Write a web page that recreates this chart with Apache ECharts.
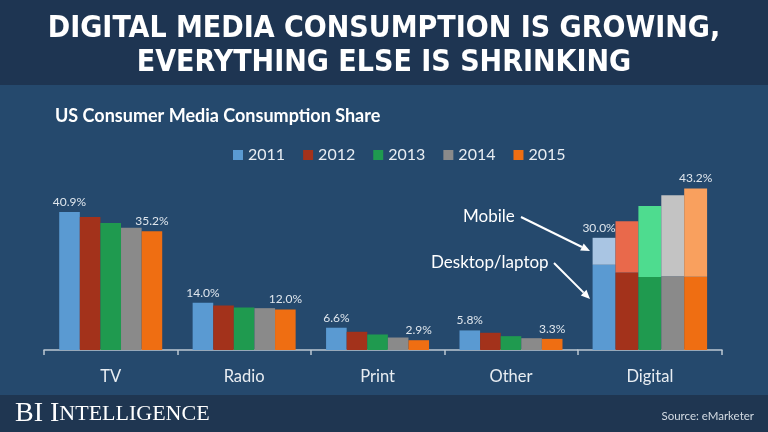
<!DOCTYPE html>
<html>
<head>
<meta charset="utf-8">
<script src="https://cdn.jsdelivr.net/npm/echarts@6/dist/echarts.min.js"></script>
<style>
html,body{margin:0;padding:0;background:#25496d;}
#chart{width:768px;height:432px;}
</style>
</head>
<body>
<div id="chart"></div>
<script>
// ---- data ----
const categories = ['TV', 'Radio', 'Print', 'Other'];
const years = ['2011', '2012', '2013', '2014', '2015'];
const share2011 = [40.9, 14.0, 6.6, 5.8];
const share2012 = [39.4, 13.2, 5.4, 5.1];
const share2013 = [37.6, 12.6, 4.6, 4.1];
const share2014 = [36.2, 12.4, 3.7, 3.5];
const share2015 = [35.2, 12.0, 2.9, 3.3];
const digitalCategory = ['Digital'];
const digitalDesktop = [22.8, 20.7, 19.5, 19.7, 19.6];
const digitalMobile = [7.2, 13.7, 19.0, 21.7, 23.6];
const digitalTotal = [30.0, 34.4, 38.5, 41.4, 43.2];
const shares = [share2011, share2012, share2013, share2014, share2015];
const titleLines = ['DIGITAL MEDIA CONSUMPTION IS GROWING,', 'EVERYTHING ELSE IS SHRINKING'];

const yearColors = ['#5a9ad2', '#a3321b', '#1f9a4f', '#8a8a8a', '#ef6e12'];
const mobileColors = ['#a9c5e3', '#e9694b', '#4edc8f', '#c3c3c3', '#f9a05e'];
const labelYears = [0, 4];

const font = 'Lato, "Open Sans", sans-serif';
const serif = '"Liberation Serif", "DejaVu Serif", serif';
const labelStyle = {color: '#dfe6ed', fontSize: 12, fontFamily: font, distance: 4};

const series = [];
years.forEach(function (y, i) {
  series.push({
    type: 'bar', name: y, xAxisIndex: 0, yAxisIndex: 0,
    data: shares[i], barWidth: 20.6, barGap: '0%',
    itemStyle: {color: yearColors[i]},
    label: Object.assign({show: labelYears.indexOf(i) >= 0, position: 'top',
      formatter: function (p) { return p.value.toFixed(1) + '%'; }}, labelStyle)
  });
});
years.forEach(function (y, i) {
  series.push({
    type: 'bar', name: y, xAxisIndex: 1, yAxisIndex: 1, stack: 'd' + y,
    data: [digitalDesktop[i]], barWidth: 22.9, barGap: '0%',
    itemStyle: {color: yearColors[i]}
  });
  series.push({
    type: 'bar', name: 'Mobile ' + y, xAxisIndex: 1, yAxisIndex: 1, stack: 'd' + y,
    data: [digitalMobile[i]], barWidth: 22.9, barGap: '0%',
    itemStyle: {color: mobileColors[i]},
    label: Object.assign({show: labelYears.indexOf(i) >= 0, position: 'top',
      offset: [i === 0 ? -5 : 0, 0],
      formatter: function () { return digitalTotal[i].toFixed(1) + '%'; }}, labelStyle)
  });
});

const axisCommon = {
  axisLine: {lineStyle: {color: '#bcc7d2', width: 1.5}},
  axisTick: {show: true, length: 5, lineStyle: {color: '#bcc7d2', width: 1.5}},
  axisLabel: {color: '#e8edf2', fontSize: 16.5, fontFamily: font, margin: 18}
};

function arrow(x1, y1, x2, y2) {
  const dx = x2 - x1, dy = y2 - y1, len = Math.sqrt(dx * dx + dy * dy);
  const ux = dx / len, uy = dy / len, L = 9, W = 4;
  const bx = x2 - ux * L, by = y2 - uy * L;
  return [
    {type: 'line', shape: {x1: x1, y1: y1, x2: bx, y2: by}, style: {stroke: '#ffffff', lineWidth: 2}, z: 50},
    {type: 'polygon', shape: {points: [[x2, y2], [bx - uy * W, by + ux * W], [bx + uy * W, by - ux * W]]},
      style: {fill: '#ffffff'}, z: 50}
  ];
}

const titleFont = {color: '#ffffff', fontSize: 30, fontWeight: 'bold',
  fontFamily: '"DejaVu Sans Condensed", "DejaVu Sans", sans-serif'};

const chart = echarts.init(document.getElementById('chart'));
chart.setOption({
  backgroundColor: '#25496d',
  animation: false,
  title: [
    {text: titleLines[0], left: 'center', top: 14, padding: 0, textStyle: titleFont},
    {text: titleLines[1], left: 'center', top: 48, padding: 0, textStyle: titleFont},
    {text: 'US Consumer Media Consumption Share', left: 55, top: 107, padding: 0,
      textStyle: {color: '#ffffff', fontSize: 18, fontWeight: 'bold', fontFamily: font}},
    {text: '{a|BI I}{b|NTELLIGENCE}', left: 15, top: 400, padding: 0,
      textStyle: {fontWeight: 'normal', rich: {
        a: {color: '#ffffff', fontSize: 28, fontWeight: 'normal', fontFamily: serif},
        b: {color: '#ffffff', fontSize: 22, fontWeight: 'normal', fontFamily: serif}}}},
    {text: 'Source: eMarketer', right: 9, top: 405,
      textStyle: {color: '#d3dbe3', fontSize: 11.5, fontWeight: 'normal', fontFamily: font}}
  ],
  legend: {
    data: years, left: 228, top: 142, icon: 'rect', itemWidth: 10, itemHeight: 10, itemGap: 18,
    textStyle: {color: '#e8edf2', fontSize: 16, fontFamily: font}
  },
  grid: [
    {left: 44, right: 190.3, top: 181.25, bottom: 82},
    {left: 577.7, right: 46, top: 163, bottom: 82}
  ],
  xAxis: [
    Object.assign({type: 'category', gridIndex: 0, data: categories}, axisCommon),
    Object.assign({type: 'category', gridIndex: 1, data: digitalCategory}, axisCommon)
  ],
  yAxis: [
    {type: 'value', gridIndex: 0, min: 0, max: 50, show: false},
    {type: 'value', gridIndex: 1, min: 0, max: 50, show: false}
  ],
  graphic: [
    {type: 'rect', shape: {x: 0, y: 0, width: 768, height: 85}, style: {fill: '#1e3552'}, z: -10, silent: true},
    {type: 'rect', shape: {x: 0, y: 395, width: 768, height: 37}, style: {fill: '#1f3651'}, z: -10, silent: true},
    {type: 'text', left: 463, top: 208, style: {text: 'Mobile', fill: '#ffffff', fontSize: 17, fontFamily: font}, z: 50},
    {type: 'text', left: 431, top: 254, style: {text: 'Desktop/laptop', fill: '#ffffff', fontSize: 17, fontFamily: font}, z: 50}
  ].concat(arrow(521, 217, 590, 251)).concat(arrow(554, 263, 590, 299)),
  series: series
});
</script>
</body>
</html>
